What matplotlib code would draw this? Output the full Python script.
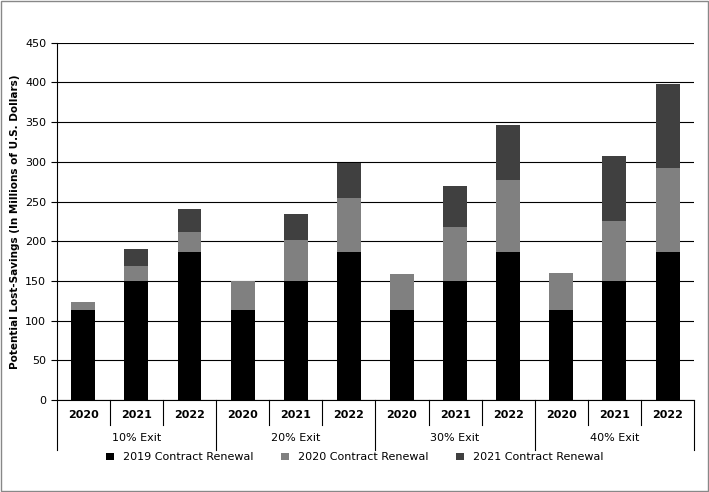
import matplotlib.pyplot as plt
import numpy as np

groups = ['10% Exit', '20% Exit', '30% Exit', '40% Exit']
years = ['2020', '2021', '2022']
# cumulative tops
renew2019 = [113, 150, 187, 113, 150, 187, 113, 150, 187, 113, 150, 187]
top2020 = [124, 169, 212, 150, 202, 254, 159, 218, 277, 160, 226, 292]
top2021 = [124, 190, 240, 150, 234, 298, 159, 269, 346, 160, 307, 398]

r2020 = np.array(top2020) - np.array(renew2019)
r2021 = np.array(top2021) - np.array(top2020)

fig = plt.figure(figsize=(7.09, 4.92), dpi=100)
ax = fig.add_axes([0.080, 0.187, 0.899, 0.726])
x = np.arange(12)
w = 0.45
ax.bar(x, renew2019, w, color='black', label='2019 Contract Renewal', zorder=3)
ax.bar(x, r2020, w, bottom=renew2019, color='#808080', label='2020 Contract Renewal', zorder=3)
ax.bar(x, r2021, w, bottom=top2020, color='#404040', label='2021 Contract Renewal', zorder=3)

ax.set_xlim(-0.5, 11.5)
ax.set_ylim(0, 450)
ax.set_yticks(range(0, 451, 50))
ax.yaxis.grid(True, color='black', linewidth=0.8, zorder=0)
for s in ['top', 'right']:
    ax.spines[s].set_visible(False)
ax.tick_params(axis='y', labelsize=8, length=4)
ax.set_xticks(x)
ax.set_xticklabels(years * 4, fontsize=8, fontweight='bold')
ax.tick_params(axis='x', length=0, pad=7)
ax.set_ylabel('Potential Lost-Savings (In Millions of U.S. Dollars)', fontsize=7.5, fontweight='bold')

# category separators and group labels
for i in range(13):
    xp = i - 0.5
    ln = 0.07 if i % 3 else 0.14
    ax.plot([xp, xp], [0, -ln], transform=ax.get_xaxis_transform(), color='black', lw=0.8, clip_on=False)
for g, name in enumerate(groups):
    ax.text(g * 3 + 1, -0.105, name, transform=ax.get_xaxis_transform(), ha='center', va='center', fontsize=8)

fig.legend(loc='lower center', bbox_to_anchor=(0.5, 0.04), ncol=3, frameon=False,
           fontsize=8, handlelength=0.7, handleheight=0.7, columnspacing=2.5)
fig.add_artist(plt.Rectangle((0.002, 0.002), 0.996, 0.996, transform=fig.transFigure,
                             fill=False, edgecolor='#888888', lw=1))
fig.savefig('out.png')
